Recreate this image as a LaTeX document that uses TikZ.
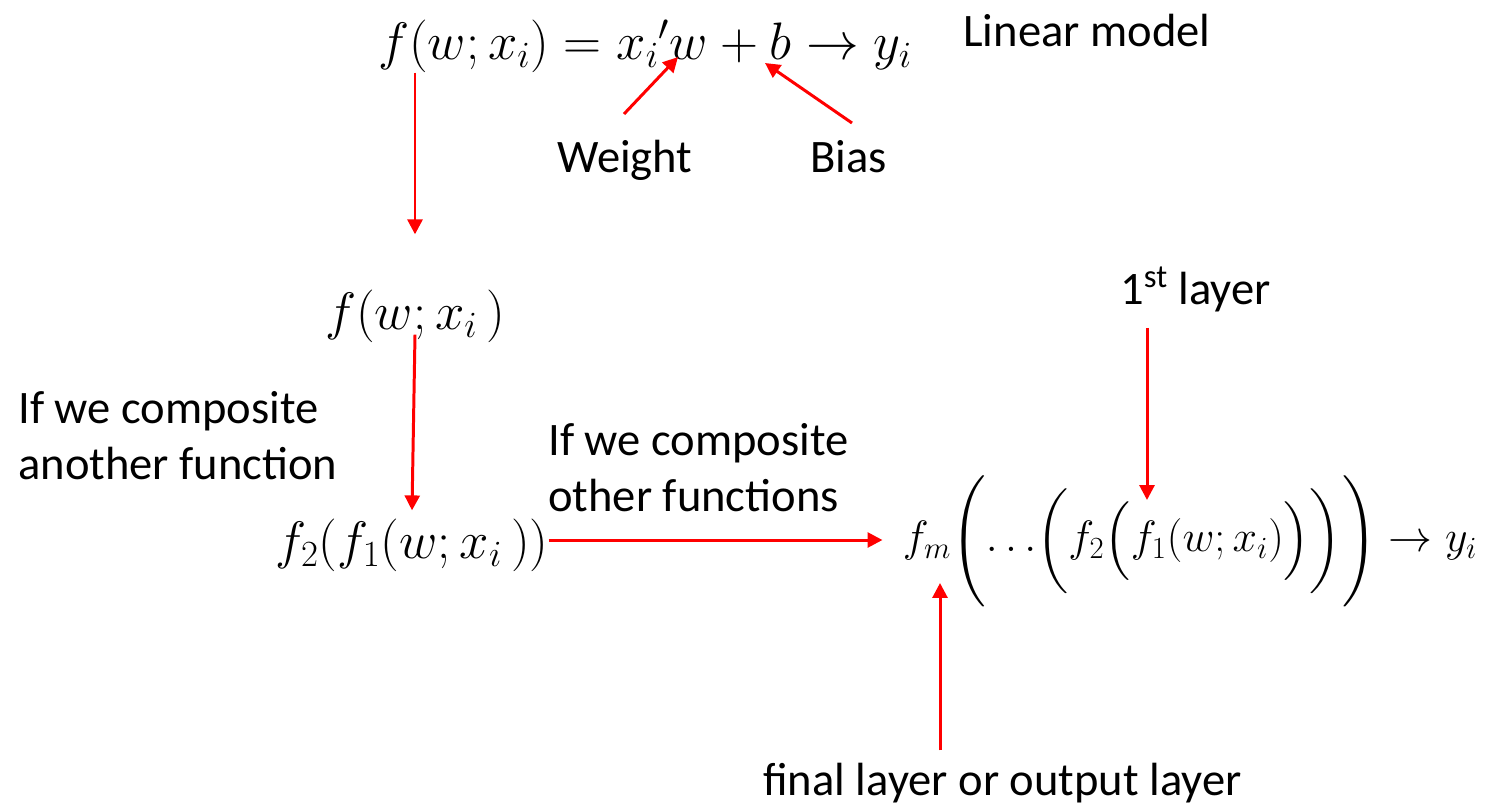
\RequirePackage{fix-cm}
\documentclass[tikz,border=0pt]{standalone}
\usepackage{amsmath}
\usepackage{fontspec}
\setmainfont{Carlito}
\usetikzlibrary{arrows.meta,positioning,calc}

\begin{document}
\begin{tikzpicture}[x=0.02cm,y=-0.02cm,font=\fontsize{26.5}{31.5}\selectfont,
  txt/.style={inner sep=0pt,align=left},
  eq/.style={inner sep=0pt,font=\fontsize{30}{36}\selectfont},
  arr/.style={-{Triangle[length=8.5pt,width=8.5pt]},red,line width=1.7pt}]
\useasboundingbox (0,0) rectangle (1491,805);
% formulas
\node[eq] (lin) at (645,46) {$f(w;x_i)=x_i{}'w+b\to y_i$};
\node[eq] (mid) at (415,316) {$f(w;x_i\,)$};
\node[eq] (comp) at (412,545) {$f_2(f_1(w;x_i\,))$};
\node[eq,font=\fontsize{25}{30}\selectfont] (deep) at (1190,541) {$f_m\Biggl({\ldots}\biggl(f_2\Bigl(f_1(w;x_i)\Bigr)\biggr)\Biggr)\to y_i$};
% labels
\node[txt,anchor=base west] (linear) at (963,46) {Linear model};
\node[txt,anchor=base west] (weight) at (557,172) {Weight};
\node[txt,anchor=base west] (bias) at (810,172) {Bias};
\node[txt,anchor=base west] (another) at (18,479) {If we composite\\another function};
\node[txt,anchor=base west] (other) at (548,511) {If we composite\\other functions};
\node[txt,anchor=base west] (first) at (1120,304) {1\textsuperscript{st} layer};
\node[txt,anchor=base west] (final) at (763,795) {final layer or output layer};
% arrow ends
\coordinate (wtip) at (678,57);
\coordinate (btip) at (765,63);
\coordinate (wstart) at (624,114);
\coordinate (bstart) at (852,123);
\coordinate (ftip) at (1147,500);
\coordinate (otip) at (940,583);
% connectors
\draw[arr] (wstart) -- (wtip);
\draw[arr] (bstart) -- (btip);
\draw[arr] (lin.south -| mid) -- ($(mid.north)+(0,-55)$);
\draw[arr] ($(mid.south)+(0,-8)$) -- ($(comp.north)+(0,-8)$);
\draw[arr] ($(comp.east)+(0,-5)$) -- ($(comp.east -| deep.west)+(-20,-5)$);
\draw[arr] ($(first.south -| ftip)+(0,16)$) -- (ftip);
\draw[arr] ($(final.north -| otip)+(0,-12)$) -- (otip);
\end{tikzpicture}
\end{document}
